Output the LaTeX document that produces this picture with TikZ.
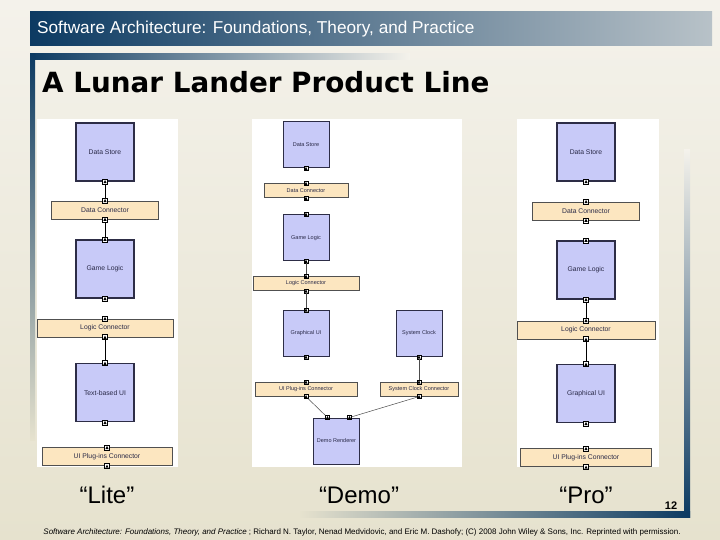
\documentclass[tikz,border=0pt]{standalone}
\usepackage{fontspec}
\setmainfont{Liberation Sans}
\newfontfamily\titlefont{DejaVu Sans}
\usetikzlibrary{positioning}

\definecolor{navy}{RGB}{12,58,98}
\definecolor{headgray}{RGB}{184,194,200}
\definecolor{bgtop}{RGB}{244,242,235}
\definecolor{bgbot}{RGB}{230,226,206}
\definecolor{compfill}{RGB}{200,202,248}
\definecolor{compline}{RGB}{45,45,70}
\definecolor{connfill}{RGB}{252,230,192}
\definecolor{connline}{RGB}{80,80,80}
\definecolor{labeltext}{RGB}{40,40,70}

\tikzset{
  comp/.style={draw=compline, fill=compfill, line width=1.2pt, minimum width=58pt,
    minimum height=58pt, inner sep=0pt, text=labeltext, font=\fontsize{6.8}{7}\selectfont},
  compsm/.style={comp, line width=1pt, minimum width=46pt, minimum height=46pt,
    font=\fontsize{5.5}{6}\selectfont},
  conn/.style={draw=connline, fill=connfill, line width=0.7pt, minimum height=18pt,
    inner sep=0pt, text=labeltext, font=\fontsize{6.8}{7}\selectfont},
  connsm/.style={conn, minimum height=14pt, font=\fontsize{5.5}{6}\selectfont},
  port/.style={draw=black, fill=white, line width=0.5pt, minimum size=5pt, inner sep=0pt,
    path picture={\fill[black] ([shift={(-1.6pt,-1.6pt)}]path picture bounding box.center)
      -- ([shift={(1.6pt,-1.6pt)}]path picture bounding box.center)
      -- ([shift={(0pt,1.6pt)}]path picture bounding box.center) -- cycle;}},
  portsm/.style={port, minimum size=4pt},
  link/.style={draw=black, line width=0.8pt},
  linksm/.style={draw=black!70, line width=0.5pt},
  version/.style={font=\fontsize{24}{26}\selectfont}
}

\begin{document}
\begin{tikzpicture}[x=1pt, y=-1pt]
\useasboundingbox (0,0) rectangle (720,540);

%Background and bars
\shade[top color=bgtop, bottom color=bgbot] (0,0) rectangle (720,540);
\shade[left color=navy, right color=headgray] (30,12) rectangle (712,46);
\shade[left color=navy, right color=bgtop] (30,54) rectangle (410,60);
\shade[top color=navy, bottom color=bgbot] (30,54) rectangle (35,440);
\shade[top color=bgtop, bottom color=navy] (684,150) rectangle (690,517);
\shade[left color=bgbot, right color=navy] (300,511) rectangle (690,517);
\fill[white] (37,119) rectangle (178,467);
\fill[white] (252,119) rectangle (462,467);
\fill[white] (517,119) rectangle (659,467);

%Titles
\node[anchor=west, inner sep=0pt, text=white, font=\fontsize{17.2}{19}\selectfont]
    (header) at (37,29) {Software Architecture: Foundations, Theory, and Practice};
\node[anchor=west, inner sep=0pt, font=\titlefont\bfseries\fontsize{27.8}{30}\selectfont]
    (title) at (42,82) {A Lunar Lander Product Line};

%Lite
\node[comp]                         (LDS)   at (105,152)            {Data Store};
\node[conn, minimum width=107pt]    (LDC)   [below=19pt of LDS]     {Data Connector};
\node[comp]                         (LGL)   [below=20pt of LDC]     {Game Logic};
\node[conn, minimum width=136pt]    (LLC)   [below=20pt of LGL]     {Logic Connector};
\node[comp]                         (LUI)   [below=26pt of LLC]     {Text-based UI};
\node[conn, minimum width=130pt]    (LPC)   [below=25pt of LUI, xshift=2pt] {UI Plug-ins Connector};

%Demo
\node[compsm]                       (DDS)   at (306,145)            {Data Store};
\node[connsm, minimum width=84pt]   (DDC)   [below=15pt of DDS]     {Data Connector};
\node[compsm]                       (DGL)   [below=16pt of DDC]     {Game Logic};
\node[connsm, minimum width=106pt]  (DLC)   [below=15pt of DGL]     {Logic Connector};
\node[compsm]                       (DUI)   [below=19pt of DLC]     {Graphical UI};
\node[connsm, minimum width=102pt]  (DPC)   [below=25pt of DUI]     {UI Plug-ins Connector};
\node[compsm]                       (DSC)   [right=66pt of DUI]     {System Clock};
\node[connsm, minimum width=78pt]   (DCC)   [below=25pt of DSC]     {System Clock Connector};
\node[compsm]                       (DDR)   at (336.5,441)          {Demo Renderer};

%Pro
\node[comp]                         (PDS)   at (586,152)            {Data Store};
\node[conn, minimum width=107pt]    (PDC)   [below=20pt of PDS]     {Data Connector};
\node[comp]                         (PGL)   [below=20pt of PDC]     {Game Logic};
\node[conn, minimum width=138pt]    (PLC)   [below=21pt of PGL]     {Logic Connector};
\node[comp]                         (PUI)   [below=25pt of PLC]     {Graphical UI};
\node[conn, minimum width=131pt]    (PPC)   [below=25pt of PUI]     {UI Plug-ins Connector};

%Ports
\node[port] (LDS-s) at (LDS.south) {};
\node[port] (LDC-n) at (LDC.north) {};
\node[port] (LDC-s) at (LDC.south) {};
\node[port] (LGL-n) at (LGL.north) {};
\node[port] (LGL-s) at (LGL.south) {};
\node[port] (LLC-n) at (LLC.north) {};
\node[port] (LLC-s) at (LLC.south) {};
\node[port] (LUI-n) at (LUI.north) {};
\node[port] (LUI-s) at (LUI.south) {};
\node[port] (LPC-n) at (LPC.north) {};
\node[port] (LPC-s) at (LPC.south) {};

\node[portsm] (DDS-s) at (DDS.south) {};
\node[portsm] (DDC-n) at (DDC.north) {};
\node[portsm] (DDC-s) at (DDC.south) {};
\node[portsm] (DGL-n) at (DGL.north) {};
\node[portsm] (DGL-s) at (DGL.south) {};
\node[portsm] (DLC-n) at (DLC.north) {};
\node[portsm] (DLC-s) at (DLC.south) {};
\node[portsm] (DUI-n) at (DUI.north) {};
\node[portsm] (DUI-s) at (DUI.south) {};
\node[portsm] (DPC-n) at (DPC.north) {};
\node[portsm] (DPC-s) at (DPC.south) {};
\node[portsm] (DSC-s) at (DSC.south) {};
\node[portsm] (DCC-n) at (DCC.north) {};
\node[portsm] (DCC-s) at (DCC.south) {};
\node[portsm] (DDR-a) at ([xshift=-9pt]DDR.north) {};
\node[portsm] (DDR-b) at ([xshift=13pt]DDR.north) {};

\node[port] (PDS-s) at (PDS.south) {};
\node[port] (PDC-n) at (PDC.north) {};
\node[port] (PDC-s) at (PDC.south) {};
\node[port] (PGL-n) at (PGL.north) {};
\node[port] (PGL-s) at (PGL.south) {};
\node[port] (PLC-n) at (PLC.north) {};
\node[port] (PLC-s) at (PLC.south) {};
\node[port] (PUI-n) at (PUI.north) {};
\node[port] (PUI-s) at (PUI.south) {};
\node[port] (PPC-n) at (PPC.north) {};
\node[port] (PPC-s) at (PPC.south) {};

%Lines
\draw[link]     (LDS-s) -- (LDC-n);
\draw[link]     (LDC-s) -- (LGL-n);
\draw[link]     (LLC-s) -- (LUI-n);
\draw[linksm]   (DGL-s) -- (DLC-n);
\draw[linksm]   (DLC-s) -- (DUI-n);
\draw[linksm]   (DSC-s) -- (DCC-n);
\draw[linksm]   (DPC-s) -- (DDR-a);
\draw[linksm]   (DCC-s) -- (DDR-b);
\draw[link]     (PGL-s) -- (PLC-n);
\draw[link]     (PLC-s) -- (PUI-n);

%Labels
\node[version]  (lite)  at (107,495)    {“Lite”};
\node[version]  (demo)  at (359,495)    {“Demo”};
\node[version]  (pro)   at (586,495)    {“Pro”};
\node[font=\bfseries\fontsize{11}{12}\selectfont] (pagenum) at (671,506) {12};
\node[font=\fontsize{8}{9}\selectfont] (credit) at (362,532)
    {\textit{Software Architecture: Foundations, Theory, and Practice} ; Richard N. Taylor, Nenad Medvidovic, and Eric M. Dashofy; (C) 2008 John Wiley \& Sons, Inc. Reprinted with permission.};
\end{tikzpicture}
\end{document}
